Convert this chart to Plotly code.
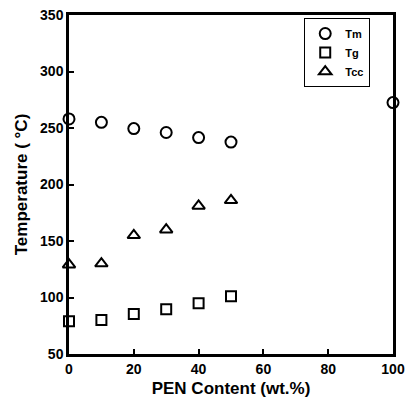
import plotly.graph_objects as go

pen_content = [0, 10, 20, 30, 40, 50]
tm_x = [0, 10, 20, 30, 40, 50, 100]
tm = [258, 255, 249.5, 246, 241.5, 237.5, 272.5]
tg = [79, 80, 85.5, 89.5, 95, 101]
tcc = [129, 130, 155, 160, 181, 186]
x_ticks = [0, 20, 40, 60, 80, 100]
y_ticks = [50, 100, 150, 200, 250, 300, 350]

FONT = "Liberation Sans, Arial, sans-serif"

fig = go.Figure()
fig.add_trace(go.Scatter(x=tm_x, y=tm, mode="markers", name="<b>Tm</b>",
                         marker=dict(symbol="circle-open", size=11, color="black", line=dict(width=2)), cliponaxis=False))
fig.add_trace(go.Scatter(x=pen_content, y=tg, mode="markers", name="<b>Tg</b>",
                         marker=dict(symbol="square-open", size=10, color="black", line=dict(width=2)), cliponaxis=False))
fig.add_trace(go.Scatter(x=pen_content, y=tcc, mode="markers", name="<b>Tcc</b>",
                         marker=dict(symbol="triangle-up-open", size=11, color="black", line=dict(width=2)), cliponaxis=False))

fig.update_layout(
    width=408, height=409,
    margin=dict(l=69, r=15, t=15, b=55),
    paper_bgcolor="white", plot_bgcolor="white",
    font=dict(family=FONT, color="black", size=13),
    showlegend=True,
    legend=dict(x=0.726, y=0.991, xanchor="left", yanchor="top",
                bordercolor="black", borderwidth=1, bgcolor="white",
                font=dict(size=11, family=FONT),
                itemwidth=30, tracegroupgap=0),
)
fig.update_xaxes(range=[0, 100], tickvals=x_ticks, ticktext=[f"<b>{v}</b>" for v in x_ticks],
                 ticks="inside", ticklen=5, tickwidth=1.5, tickcolor="black",
                 showline=True, linecolor="black", linewidth=2.5, mirror=True,
                 showgrid=False, zeroline=False, automargin=False, ticklabeloverflow="allow",
                 title=dict(text="<b>PEN Content (wt.%)</b>", font=dict(size=17), standoff=7),
                 tickfont=dict(size=14))
fig.update_yaxes(range=[50, 350], tickvals=y_ticks, ticktext=[f"<b>{v}</b>" for v in y_ticks],
                 ticks="inside", ticklen=5, tickwidth=1.5, tickcolor="black",
                 showline=True, linecolor="black", linewidth=2.5, mirror=True,
                 showgrid=False, zeroline=False, automargin=False, ticklabeloverflow="allow",
                 title=dict(text="<b>Temperature ( °C)</b>", font=dict(size=17), standoff=9),
                 tickfont=dict(size=14))
fig.write_html("out.html", config={"displayModeBar": False},
               post_script="document.body.style.margin='0';document.documentElement.style.overflow='hidden';document.body.style.overflow='hidden';")
